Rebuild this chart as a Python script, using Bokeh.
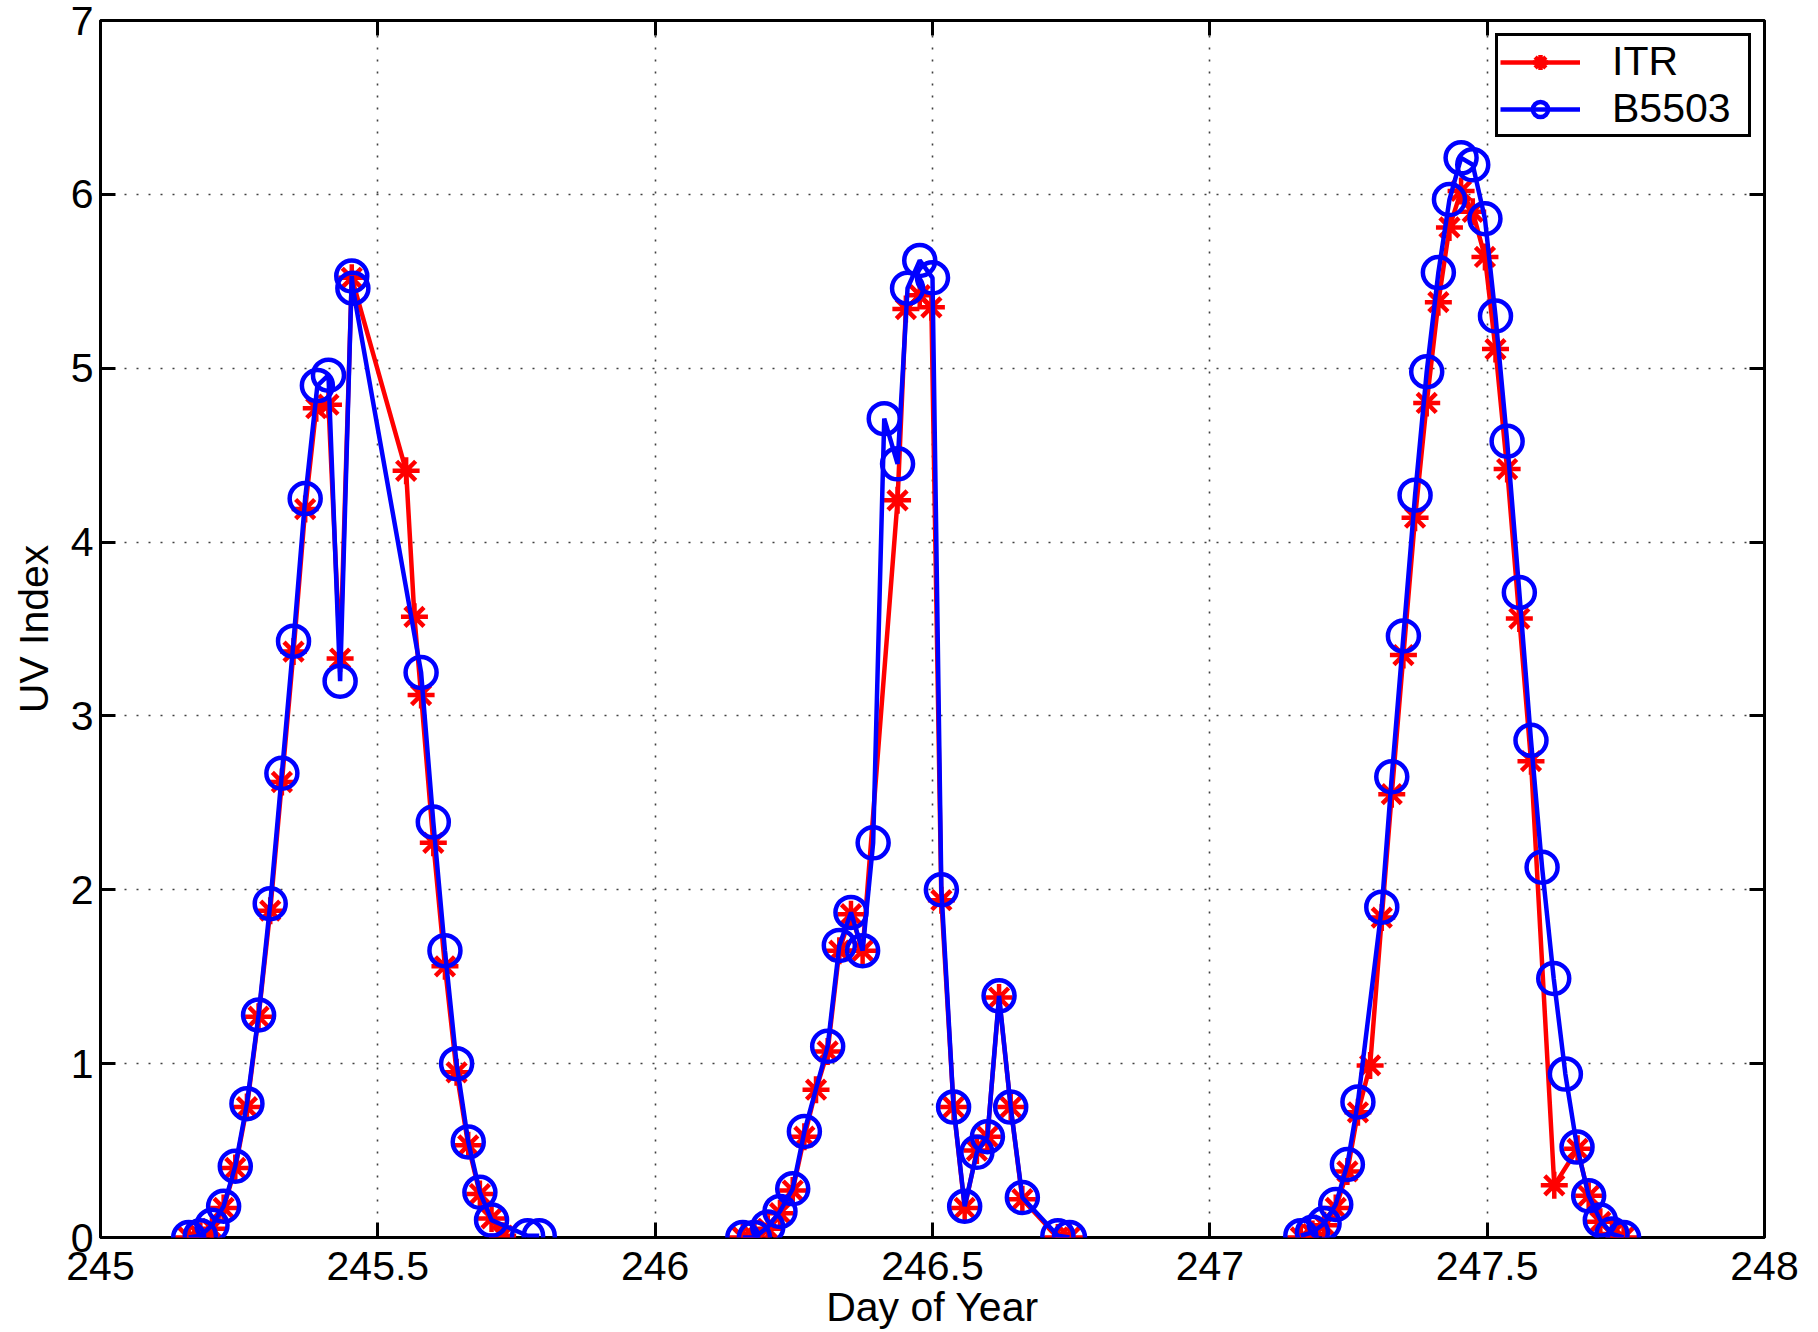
from bokeh.plotting import figure
from bokeh.models import Range1d, FixedTicker, LinearAxis, Legend, LegendItem
from bokeh.embed import file_html
from bokeh.resources import INLINE

# ---------------- data ----------------
itr_day_245 = [245.159, 245.180, 245.201, 245.222, 245.243, 245.264, 245.285, 245.306, 245.327,
               245.348, 245.369, 245.389, 245.411, 245.432, 245.453, 245.551, 245.566, 245.578,
               245.600, 245.621, 245.642, 245.663, 245.684, 245.705, 245.725]
itr_uv_245 = [0.00, 0.01, 0.05, 0.17, 0.40, 0.75, 1.27, 1.88, 2.62,
              3.37, 4.19, 4.77, 4.79, 3.33, 5.52, 4.41, 3.57, 3.12,
              2.27, 1.56, 0.95, 0.53, 0.25, 0.11, 0.01]

b5503_day_245 = [245.159, 245.180, 245.201, 245.222, 245.243, 245.264, 245.285, 245.306, 245.327,
                 245.348, 245.369, 245.391, 245.411, 245.432, 245.453, 245.455, 245.578, 245.600,
                 245.621, 245.642, 245.663, 245.684, 245.705, 245.770, 245.791]
b5503_uv_245 = [0.00, 0.01, 0.07, 0.18, 0.41, 0.77, 1.28, 1.92, 2.67,
                3.43, 4.25, 4.90, 4.96, 3.20, 5.53, 5.46, 3.25, 2.39,
                1.65, 1.00, 0.55, 0.26, 0.10, 0.01, 0.01]

itr_day_246 = [246.158, 246.179, 246.203, 246.225, 246.248, 246.269, 246.290, 246.311, 246.332,
               246.353, 246.374, 246.437, 246.452, 246.477, 246.498, 246.516, 246.538, 246.558,
               246.580, 246.599, 246.620, 246.641, 246.662, 246.726, 246.747]
itr_uv_246 = [0.00, 0.00, 0.05, 0.14, 0.27, 0.58, 0.85, 1.07, 1.65,
              1.86, 1.65, 4.24, 5.34, 5.42, 5.35, 1.94, 0.75, 0.17,
              0.50, 0.58, 1.38, 0.75, 0.22, 0.00, 0.00]

b5503_day_246 = [246.158, 246.179, 246.203, 246.225, 246.248, 246.269, 246.311, 246.332, 246.353,
                 246.374, 246.393, 246.413, 246.437, 246.455, 246.477, 246.500, 246.516, 246.538,
                 246.558, 246.580, 246.599, 246.620, 246.641, 246.662, 246.726, 246.747]
b5503_uv_246 = [0.00, 0.00, 0.06, 0.15, 0.28, 0.61, 1.10, 1.68, 1.87,
                1.65, 2.27, 4.71, 4.45, 5.46, 5.62, 5.52, 2.00, 0.75,
                0.18, 0.49, 0.58, 1.39, 0.75, 0.23, 0.01, 0.00]

itr_day_247 = [247.164, 247.185, 247.206, 247.227, 247.248, 247.267, 247.289, 247.310, 247.328,
               247.349, 247.370, 247.391, 247.412, 247.432, 247.453, 247.474, 247.496, 247.515,
               247.536, 247.558, 247.579, 247.621, 247.663, 247.683, 247.704, 247.725, 247.746]
itr_uv_247 = [0.00, 0.02, 0.07, 0.17, 0.38, 0.72, 0.99, 1.84, 2.55,
              3.35, 4.14, 4.80, 5.38, 5.81, 6.02, 5.90, 5.64, 5.11,
              4.42, 3.56, 2.74, 0.30, 0.51, 0.24, 0.09, 0.02, 0.00]

b5503_day_247 = [247.164, 247.185, 247.206, 247.227, 247.248, 247.267, 247.310, 247.328, 247.349,
                 247.370, 247.391, 247.412, 247.432, 247.453, 247.474, 247.496, 247.515, 247.536,
                 247.558, 247.579, 247.599, 247.620, 247.641, 247.662, 247.683, 247.704, 247.725,
                 247.746]
b5503_uv_247 = [0.01, 0.03, 0.08, 0.19, 0.42, 0.78, 1.90, 2.65, 3.46,
                4.27, 4.98, 5.55, 5.97, 6.21, 6.17, 5.86, 5.30, 4.58,
                3.71, 2.86, 2.13, 1.49, 0.94, 0.52, 0.24, 0.10, 0.02,
                0.00]

x_ticks = [245, 245.5, 246, 246.5, 247, 247.5, 248]
x_tick_labels = ["245", "245.5", "246", "246.5", "247", "247.5", "248"]
y_ticks = [0, 1, 2, 3, 4, 5, 6, 7]

series = [
    ("ITR", "#ff0000", "asterisk",
     [(itr_day_245, itr_uv_245), (itr_day_246, itr_uv_246), (itr_day_247, itr_uv_247)]),
    ("B5503", "#0000ff", "circle",
     [(b5503_day_245, b5503_uv_245), (b5503_day_246, b5503_uv_246), (b5503_day_247, b5503_uv_247)]),
]

FONT = "Liberation Sans"
FS = "41px"

p = figure(width=1800, height=1332, output_backend="svg", toolbar_location=None,
           x_range=Range1d(245, 248), y_range=Range1d(0, 7),
           min_border_left=100, min_border_right=36, min_border_top=20, min_border_bottom=92,
           x_axis_label="Day of Year", y_axis_label="UV Index")
p.background_fill_color = "white"
p.border_fill_color = "white"
p.outline_line_color = "black"
p.outline_line_width = 3

legend_items = []
for name, color, marker, segs in series:
    rends = []
    for t, v in segs:
        rl = p.line(t, v, line_color=color, line_width=4.5)
        if marker == "circle":
            rs = p.scatter(t, v, marker="circle", size=31, line_color=color, line_width=4.5,
                           fill_color=None)
        else:
            rs = p.scatter(t, v, marker="asterisk", size=27, line_color=color, line_width=4.5)
        rends += [rl, rs]
    legend_items.append(LegendItem(label=name, renderers=rends[:2]))

xt = FixedTicker(ticks=x_ticks, minor_ticks=[])
yt = FixedTicker(ticks=y_ticks, minor_ticks=[])

p.xaxis.ticker = xt
p.yaxis.ticker = yt
p.xaxis.major_label_overrides = {t: lab for t, lab in zip(x_ticks, x_tick_labels)}

for ax in (p.xaxis[0], p.yaxis[0]):
    ax.axis_line_color = None
    ax.major_tick_in = 15
    ax.major_tick_out = 0
    ax.major_tick_line_width = 3
    ax.major_tick_line_color = "black"
    ax.minor_tick_line_color = None
    ax.major_label_text_font = FONT
    ax.major_label_text_font_size = FS
    ax.major_label_text_color = "black"
    ax.axis_label_text_font = FONT
    ax.axis_label_text_font_size = FS
    ax.axis_label_text_font_style = "normal"
    ax.axis_label_text_color = "black"
p.xaxis.major_label_standoff = 14
p.xaxis.axis_label_standoff = 1
p.yaxis.major_label_standoff = 7
p.yaxis.axis_label_standoff = 11

for loc, tk, ticks in (("above", xt, x_ticks), ("right", yt, y_ticks)):
    ax = LinearAxis(ticker=tk, axis_line_color=None, major_tick_in=15, major_tick_out=0,
                    major_tick_line_width=3, minor_tick_line_color=None,
                    major_label_overrides={t: "" for t in ticks}, major_label_standoff=0)
    p.add_layout(ax, loc)

for g in (p.xgrid[0], p.ygrid[0]):
    g.grid_line_color = "black"
    g.grid_line_alpha = 0.75
    g.grid_line_width = 1.6
    g.grid_line_dash = "2 10"
p.xgrid.ticker = xt
p.ygrid.ticker = yt

legend = Legend(items=legend_items, location="top_right", margin=13, padding=2, spacing=0,
                glyph_width=80, glyph_height=38, label_height=38, label_standoff=32,
                label_width=134,
                label_text_font=FONT, label_text_font_size=FS, label_text_color="black",
                border_line_color="black", border_line_width=3, border_line_alpha=1,
                background_fill_alpha=1)
p.add_layout(legend)

open("out.html", "w").write(file_html(p, INLINE))
